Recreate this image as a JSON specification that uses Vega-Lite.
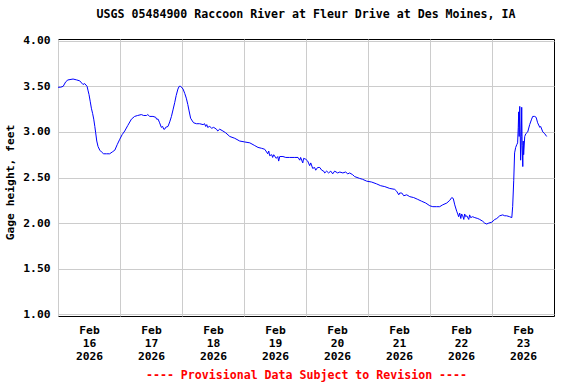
{
  "$schema": "https://vega.github.io/schema/vega-lite/v6.json",
  "width": 496,
  "height": 277,
  "autosize": {"type": "none"},
  "padding": {"left": 58, "top": 39, "right": 22, "bottom": 68},
  "background": "white",
  "title": {
    "text": "USGS 05484900 Raccoon River at Fleur Drive at Des Moines, IA",
    "font": "DejaVu Sans Mono",
    "fontSize": 11.6,
    "fontWeight": "bold",
    "color": "#000000",
    "anchor": "middle",
    "offset": 14
  },
  "data": {
    "values": [
      {"t": "2026-02-16T00:00", "v": 3.49},
      {"t": "2026-02-16T01:00", "v": 3.49},
      {"t": "2026-02-16T02:00", "v": 3.50},
      {"t": "2026-02-16T03:00", "v": 3.55},
      {"t": "2026-02-16T03:50", "v": 3.57},
      {"t": "2026-02-16T05:50", "v": 3.58},
      {"t": "2026-02-16T07:15", "v": 3.57},
      {"t": "2026-02-16T08:25", "v": 3.56},
      {"t": "2026-02-16T09:40", "v": 3.52},
      {"t": "2026-02-16T10:20", "v": 3.53},
      {"t": "2026-02-16T11:15", "v": 3.50},
      {"t": "2026-02-16T11:40", "v": 3.45},
      {"t": "2026-02-16T12:00", "v": 3.41},
      {"t": "2026-02-16T12:30", "v": 3.33},
      {"t": "2026-02-16T12:55", "v": 3.26},
      {"t": "2026-02-16T13:25", "v": 3.20},
      {"t": "2026-02-16T13:50", "v": 3.14},
      {"t": "2026-02-16T14:15", "v": 3.06},
      {"t": "2026-02-16T14:35", "v": 2.99},
      {"t": "2026-02-16T15:00", "v": 2.90},
      {"t": "2026-02-16T15:30", "v": 2.84},
      {"t": "2026-02-16T16:10", "v": 2.80},
      {"t": "2026-02-16T16:50", "v": 2.78},
      {"t": "2026-02-16T17:40", "v": 2.76},
      {"t": "2026-02-16T18:45", "v": 2.76},
      {"t": "2026-02-16T20:00", "v": 2.76},
      {"t": "2026-02-16T21:00", "v": 2.78},
      {"t": "2026-02-16T22:00", "v": 2.80},
      {"t": "2026-02-16T22:55", "v": 2.86},
      {"t": "2026-02-16T23:55", "v": 2.92},
      {"t": "2026-02-17T00:50", "v": 2.97},
      {"t": "2026-02-17T01:50", "v": 3.01},
      {"t": "2026-02-17T03:00", "v": 3.07},
      {"t": "2026-02-17T04:25", "v": 3.14},
      {"t": "2026-02-17T05:40", "v": 3.17},
      {"t": "2026-02-17T06:50", "v": 3.18},
      {"t": "2026-02-17T08:15", "v": 3.19},
      {"t": "2026-02-17T09:10", "v": 3.18},
      {"t": "2026-02-17T10:15", "v": 3.18},
      {"t": "2026-02-17T10:45", "v": 3.19},
      {"t": "2026-02-17T11:30", "v": 3.17},
      {"t": "2026-02-17T12:45", "v": 3.17},
      {"t": "2026-02-17T13:50", "v": 3.16},
      {"t": "2026-02-17T14:10", "v": 3.14},
      {"t": "2026-02-17T14:45", "v": 3.14},
      {"t": "2026-02-17T15:20", "v": 3.10},
      {"t": "2026-02-17T16:00", "v": 3.05},
      {"t": "2026-02-17T16:30", "v": 3.06},
      {"t": "2026-02-17T16:55", "v": 3.03},
      {"t": "2026-02-17T17:20", "v": 3.03},
      {"t": "2026-02-17T17:40", "v": 3.05},
      {"t": "2026-02-17T18:35", "v": 3.06},
      {"t": "2026-02-17T19:15", "v": 3.11},
      {"t": "2026-02-17T19:55", "v": 3.17},
      {"t": "2026-02-17T20:35", "v": 3.25},
      {"t": "2026-02-17T21:10", "v": 3.32},
      {"t": "2026-02-17T21:45", "v": 3.40},
      {"t": "2026-02-17T22:25", "v": 3.47},
      {"t": "2026-02-17T22:55", "v": 3.50},
      {"t": "2026-02-17T23:30", "v": 3.50},
      {"t": "2026-02-18T00:25", "v": 3.47},
      {"t": "2026-02-18T01:05", "v": 3.42},
      {"t": "2026-02-18T01:40", "v": 3.37},
      {"t": "2026-02-18T02:15", "v": 3.30},
      {"t": "2026-02-18T02:45", "v": 3.23},
      {"t": "2026-02-18T03:20", "v": 3.15},
      {"t": "2026-02-18T04:00", "v": 3.12},
      {"t": "2026-02-18T04:30", "v": 3.10},
      {"t": "2026-02-18T05:35", "v": 3.09},
      {"t": "2026-02-18T06:50", "v": 3.09},
      {"t": "2026-02-18T08:10", "v": 3.08},
      {"t": "2026-02-18T08:45", "v": 3.09},
      {"t": "2026-02-18T09:10", "v": 3.06},
      {"t": "2026-02-18T09:35", "v": 3.08},
      {"t": "2026-02-18T09:55", "v": 3.05},
      {"t": "2026-02-18T10:45", "v": 3.06},
      {"t": "2026-02-18T11:30", "v": 3.04},
      {"t": "2026-02-18T12:15", "v": 3.05},
      {"t": "2026-02-18T13:20", "v": 3.03},
      {"t": "2026-02-18T13:50", "v": 3.01},
      {"t": "2026-02-18T14:35", "v": 3.03},
      {"t": "2026-02-18T15:50", "v": 3.01},
      {"t": "2026-02-18T16:55", "v": 2.99},
      {"t": "2026-02-18T18:30", "v": 2.95},
      {"t": "2026-02-18T20:25", "v": 2.93},
      {"t": "2026-02-18T22:20", "v": 2.90},
      {"t": "2026-02-19T00:15", "v": 2.89},
      {"t": "2026-02-19T02:15", "v": 2.88},
      {"t": "2026-02-19T04:10", "v": 2.85},
      {"t": "2026-02-19T05:25", "v": 2.83},
      {"t": "2026-02-19T06:50", "v": 2.82},
      {"t": "2026-02-19T08:00", "v": 2.81},
      {"t": "2026-02-19T08:45", "v": 2.78},
      {"t": "2026-02-19T09:10", "v": 2.76},
      {"t": "2026-02-19T09:35", "v": 2.79},
      {"t": "2026-02-19T09:55", "v": 2.74},
      {"t": "2026-02-19T10:45", "v": 2.75},
      {"t": "2026-02-19T11:05", "v": 2.72},
      {"t": "2026-02-19T11:30", "v": 2.75},
      {"t": "2026-02-19T12:30", "v": 2.71},
      {"t": "2026-02-19T13:05", "v": 2.73},
      {"t": "2026-02-19T13:25", "v": 2.68},
      {"t": "2026-02-19T13:50", "v": 2.73},
      {"t": "2026-02-19T15:05", "v": 2.73},
      {"t": "2026-02-19T16:10", "v": 2.72},
      {"t": "2026-02-19T17:40", "v": 2.72},
      {"t": "2026-02-19T19:40", "v": 2.72},
      {"t": "2026-02-19T20:55", "v": 2.72},
      {"t": "2026-02-19T21:35", "v": 2.69},
      {"t": "2026-02-19T21:55", "v": 2.72},
      {"t": "2026-02-19T22:45", "v": 2.66},
      {"t": "2026-02-19T23:05", "v": 2.71},
      {"t": "2026-02-19T23:55", "v": 2.70},
      {"t": "2026-02-20T00:40", "v": 2.68},
      {"t": "2026-02-20T01:25", "v": 2.63},
      {"t": "2026-02-20T01:50", "v": 2.66},
      {"t": "2026-02-20T02:35", "v": 2.60},
      {"t": "2026-02-20T03:20", "v": 2.61},
      {"t": "2026-02-20T03:45", "v": 2.58},
      {"t": "2026-02-20T04:30", "v": 2.61},
      {"t": "2026-02-20T05:20", "v": 2.61},
      {"t": "2026-02-20T06:05", "v": 2.58},
      {"t": "2026-02-20T06:50", "v": 2.57},
      {"t": "2026-02-20T07:15", "v": 2.55},
      {"t": "2026-02-20T08:00", "v": 2.57},
      {"t": "2026-02-20T08:45", "v": 2.55},
      {"t": "2026-02-20T09:35", "v": 2.57},
      {"t": "2026-02-20T10:20", "v": 2.54},
      {"t": "2026-02-20T11:05", "v": 2.57},
      {"t": "2026-02-20T12:15", "v": 2.55},
      {"t": "2026-02-20T13:05", "v": 2.56},
      {"t": "2026-02-20T14:15", "v": 2.55},
      {"t": "2026-02-20T15:20", "v": 2.56},
      {"t": "2026-02-20T16:10", "v": 2.54},
      {"t": "2026-02-20T16:55", "v": 2.55},
      {"t": "2026-02-20T18:05", "v": 2.53},
      {"t": "2026-02-20T18:50", "v": 2.51},
      {"t": "2026-02-20T20:45", "v": 2.49},
      {"t": "2026-02-20T21:55", "v": 2.48},
      {"t": "2026-02-20T23:30", "v": 2.46},
      {"t": "2026-02-21T01:25", "v": 2.45},
      {"t": "2026-02-21T03:20", "v": 2.43},
      {"t": "2026-02-21T04:55", "v": 2.41},
      {"t": "2026-02-21T06:30", "v": 2.40},
      {"t": "2026-02-21T08:25", "v": 2.38},
      {"t": "2026-02-21T10:20", "v": 2.37},
      {"t": "2026-02-21T11:05", "v": 2.35},
      {"t": "2026-02-21T11:55", "v": 2.31},
      {"t": "2026-02-21T12:15", "v": 2.33},
      {"t": "2026-02-21T13:05", "v": 2.33},
      {"t": "2026-02-21T13:50", "v": 2.30},
      {"t": "2026-02-21T15:00", "v": 2.31},
      {"t": "2026-02-21T16:10", "v": 2.29},
      {"t": "2026-02-21T17:40", "v": 2.28},
      {"t": "2026-02-21T19:15", "v": 2.26},
      {"t": "2026-02-21T20:45", "v": 2.24},
      {"t": "2026-02-21T22:20", "v": 2.22},
      {"t": "2026-02-21T23:55", "v": 2.19},
      {"t": "2026-02-22T01:05", "v": 2.18},
      {"t": "2026-02-22T02:35", "v": 2.18},
      {"t": "2026-02-22T03:45", "v": 2.18},
      {"t": "2026-02-22T04:55", "v": 2.20},
      {"t": "2026-02-22T06:30", "v": 2.22},
      {"t": "2026-02-22T07:40", "v": 2.25},
      {"t": "2026-02-22T08:25", "v": 2.28},
      {"t": "2026-02-22T09:00", "v": 2.27},
      {"t": "2026-02-22T09:35", "v": 2.20},
      {"t": "2026-02-22T10:20", "v": 2.13},
      {"t": "2026-02-22T10:45", "v": 2.10},
      {"t": "2026-02-22T11:05", "v": 2.07},
      {"t": "2026-02-22T11:30", "v": 2.11},
      {"t": "2026-02-22T11:55", "v": 2.05},
      {"t": "2026-02-22T12:15", "v": 2.10},
      {"t": "2026-02-22T12:40", "v": 2.08},
      {"t": "2026-02-22T13:05", "v": 2.04},
      {"t": "2026-02-22T13:25", "v": 2.10},
      {"t": "2026-02-22T13:50", "v": 2.07},
      {"t": "2026-02-22T14:15", "v": 2.08},
      {"t": "2026-02-22T15:00", "v": 2.04},
      {"t": "2026-02-22T15:20", "v": 2.09},
      {"t": "2026-02-22T15:45", "v": 2.06},
      {"t": "2026-02-22T16:30", "v": 2.07},
      {"t": "2026-02-22T17:20", "v": 2.06},
      {"t": "2026-02-22T18:30", "v": 2.05},
      {"t": "2026-02-22T19:15", "v": 2.04},
      {"t": "2026-02-22T20:25", "v": 2.02},
      {"t": "2026-02-22T21:10", "v": 2.00},
      {"t": "2026-02-22T21:55", "v": 1.99},
      {"t": "2026-02-22T22:45", "v": 2.00},
      {"t": "2026-02-22T23:55", "v": 2.01},
      {"t": "2026-02-23T01:05", "v": 2.04},
      {"t": "2026-02-23T01:50", "v": 2.05},
      {"t": "2026-02-23T03:00", "v": 2.08},
      {"t": "2026-02-23T04:10", "v": 2.09},
      {"t": "2026-02-23T04:55", "v": 2.08},
      {"t": "2026-02-23T05:40", "v": 2.08},
      {"t": "2026-02-23T06:50", "v": 2.07},
      {"t": "2026-02-23T07:40", "v": 2.06},
      {"t": "2026-02-23T08:00", "v": 2.18},
      {"t": "2026-02-23T08:25", "v": 2.47},
      {"t": "2026-02-23T08:45", "v": 2.77},
      {"t": "2026-02-23T09:10", "v": 2.83},
      {"t": "2026-02-23T09:35", "v": 2.86},
      {"t": "2026-02-23T09:55", "v": 2.88},
      {"t": "2026-02-23T10:10", "v": 3.05},
      {"t": "2026-02-23T10:20", "v": 3.22},
      {"t": "2026-02-23T10:30", "v": 2.95},
      {"t": "2026-02-23T10:45", "v": 3.28},
      {"t": "2026-02-23T10:55", "v": 3.00},
      {"t": "2026-02-23T11:05", "v": 2.69},
      {"t": "2026-02-23T11:20", "v": 2.95},
      {"t": "2026-02-23T11:30", "v": 3.27},
      {"t": "2026-02-23T11:40", "v": 2.85},
      {"t": "2026-02-23T11:55", "v": 2.62},
      {"t": "2026-02-23T12:05", "v": 2.90},
      {"t": "2026-02-23T12:15", "v": 2.75},
      {"t": "2026-02-23T12:40", "v": 2.95},
      {"t": "2026-02-23T13:05", "v": 2.98},
      {"t": "2026-02-23T13:50", "v": 3.00},
      {"t": "2026-02-23T14:35", "v": 3.08},
      {"t": "2026-02-23T15:20", "v": 3.14},
      {"t": "2026-02-23T15:45", "v": 3.17},
      {"t": "2026-02-23T16:30", "v": 3.17},
      {"t": "2026-02-23T17:05", "v": 3.16},
      {"t": "2026-02-23T17:40", "v": 3.10},
      {"t": "2026-02-23T18:30", "v": 3.05},
      {"t": "2026-02-23T18:50", "v": 3.06},
      {"t": "2026-02-23T19:40", "v": 3.00},
      {"t": "2026-02-23T20:25", "v": 2.98},
      {"t": "2026-02-23T21:10", "v": 2.95}
    ]
  },
  "mark": {"type": "line", "color": "#0000ff", "strokeWidth": 1, "interpolate": "linear"},
  "encoding": {
    "x": {
      "field": "t",
      "type": "temporal",
      "scale": {
        "domain": [
          {"year": 2026, "month": 2, "date": 16, "hours": 0},
          {"year": 2026, "month": 2, "date": 24, "hours": 0}
        ],
        "nice": false
      },
      "axis": {
        "values": [
          {"year": 2026, "month": 2, "date": 16},
          {"year": 2026, "month": 2, "date": 17},
          {"year": 2026, "month": 2, "date": 18},
          {"year": 2026, "month": 2, "date": 19},
          {"year": 2026, "month": 2, "date": 20},
          {"year": 2026, "month": 2, "date": 21},
          {"year": 2026, "month": 2, "date": 22},
          {"year": 2026, "month": 2, "date": 23}
        ],
        "labelExpr": "[timeFormat(datum.value, '%b'), timeFormat(datum.value, '%d'), timeFormat(datum.value, '%Y')]",
        "labelOffset": 31,
        "labelFlush": false,
        "labelBound": false,
        "labelOverlap": false,
        "labelAlign": "center",
        "labelBaseline": "top",
        "labelLineHeight": 13,
        "labelPadding": 8,
        "labelFontSize": 11.3,
        "title": "---- Provisional Data Subject to Revision ----",
        "titleColor": "#ff0000",
        "titleFontSize": 11.6,
        "titlePadding": 8,
        "titleX": 248,
        "titleAnchor": "middle"
      }
    },
    "y": {
      "field": "v",
      "type": "quantitative",
      "scale": {"domain": [0.981, 4.019], "nice": false, "zero": false},
      "axis": {
        "values": [1, 1.5, 2, 2.5, 3, 3.5, 4],
        "format": ".2f",
        "labelPadding": 8,
        "labelFontSize": 11.3,
        "title": "Gage height, feet",
        "titleFontSize": 11.3,
        "titlePadding": 7,
        "titleY": 143,
        "titleAnchor": "middle"
      }
    }
  },
  "config": {
    "view": {"stroke": "#000000", "strokeWidth": 1},
    "axis": {
      "domain": false,
      "ticks": false,
      "grid": true,
      "gridColor": "#cccccc",
      "gridWidth": 1,
      "gridOpacity": 1,
      "labelFont": "DejaVu Sans Mono",
      "labelFontSize": 11,
      "labelFontWeight": "bold",
      "labelColor": "#000000",
      "titleFont": "DejaVu Sans Mono",
      "titleFontSize": 11,
      "titleFontWeight": "bold",
      "titleColor": "#000000"
    }
  }
}
